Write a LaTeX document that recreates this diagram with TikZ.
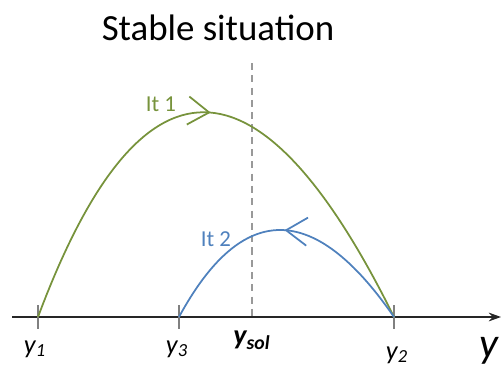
\documentclass[tikz,border=0pt]{standalone}
\usepackage{fontspec}
\setmainfont{Carlito}
\usetikzlibrary{arrows.meta,decorations.markings}
\definecolor{itgreen}{RGB}{119,147,60}
\definecolor{itblue}{RGB}{79,129,189}

\begin{document}
\begin{tikzpicture}[x=0.02cm,y=-0.02cm,
    midarrow/.style={postaction={decorate,decoration={markings,
        mark=at position 0.5 with {\arrow{Straight Barb[length=12pt,width=16pt]}}}}},
    tick/.style={gray,line width=0.6pt},
    ylab/.style={font=\fontsize{15}{18}\selectfont\itshape}]
  \useasboundingbox (0,0) rectangle (501,365);
  % title
  \node (title) at (218,28) {\fontsize{21}{24}\selectfont Stable situation};
  % points on the axis
  \coordinate (ystart) at (12,317);
  \coordinate (yend) at (501,317);
  \coordinate (y1) at (38,317);
  \coordinate (y3) at (179,317);
  \coordinate (ysol) at (252,317);
  \coordinate (y2) at (394,317);
  \coordinate (soltop) at (252,63);
  % the axis
  \draw[-{Stealth[length=7pt,width=5pt]},line width=0.8pt,black!85] (ystart) -- (yend);
  % ticks
  \draw[tick] (y1) ++(0,-12) -- ++(0,24);
  \draw[tick] (y3) ++(0,-12) -- ++(0,24);
  \draw[tick] (y2) ++(0,-12) -- ++(0,24);
  % solution
  \draw[gray!80,line width=0.8pt,dash pattern=on 4pt off 3pt] (soltop) -- (ysol);
  % iterations
  \draw[itgreen,line width=1pt,midarrow] (y1) .. controls (140,44) and (259,44) .. (y2);
  \draw[itblue,line width=1pt,midarrow] (y2) .. controls (314,201) and (242,201) .. (y3);
  \node[text=itgreen,font=\fontsize{13}{15}\selectfont] (it1) at (161,104) {It 1};
  \node[text=itblue,font=\fontsize{13}{15}\selectfont] (it2) at (216,239) {It 2};
  % labels
  \node[ylab] (ly1) at (35,349) {y\textsubscript{1}};
  \node[ylab] (ly3) at (177,349) {y\textsubscript{3}};
  \node[ylab,font=\fontsize{16}{18}\selectfont\bfseries\itshape] (lsol) at (252,340) {y\textsubscript{sol}};
  \node[ylab] (ly2) at (397,355) {y\textsubscript{2}};
  \node[font=\fontsize{24}{28}\selectfont\itshape,inner sep=0pt] (ly) at (489,351) {y};
\end{tikzpicture}
\end{document}
